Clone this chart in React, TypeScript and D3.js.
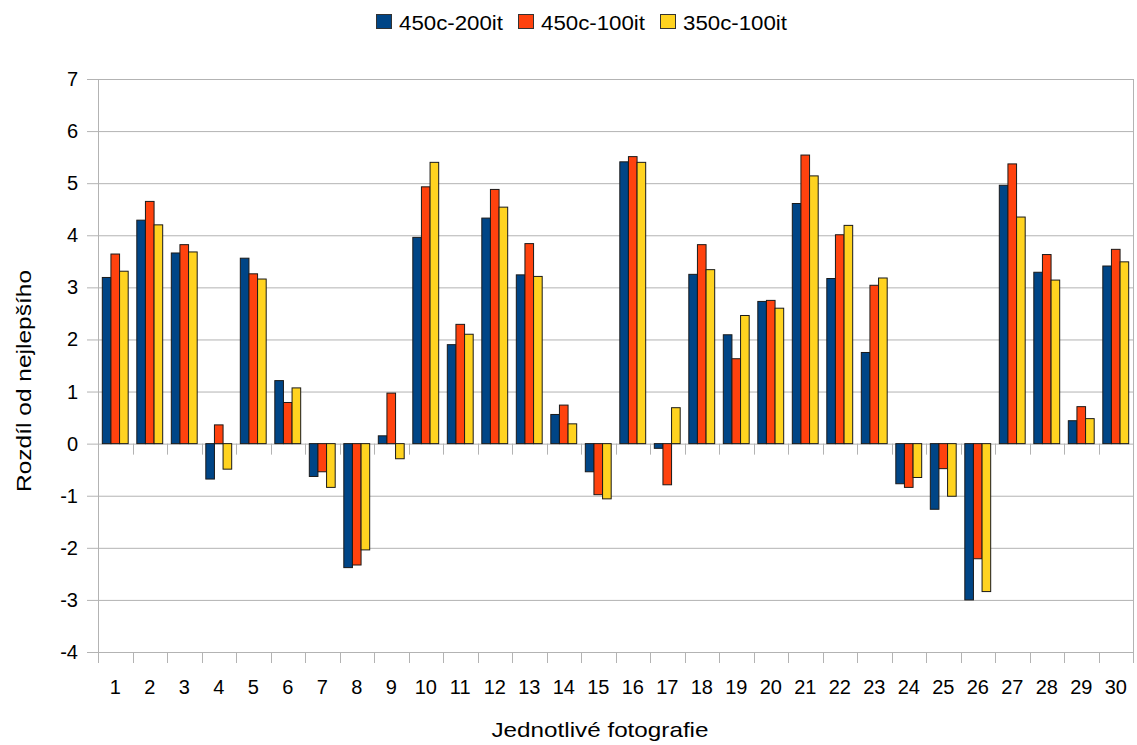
import React, { useEffect, useRef } from 'react';
import * as d3 from 'd3';

const categories = Array.from({ length: 30 }, (_, i) => String(i + 1));
const seriesNames = ['450c-200it', '450c-100it', '350c-100it'];
const seriesColors = ['#004586', '#ff420e', '#ffd320'];

const s450c200 = [3.19, 4.29, 3.66, -0.68, 3.56, 1.21, -0.63, -2.38, 0.15, 3.96,
  1.90, 4.33, 3.24, 0.56, -0.54, 5.41, -0.09, 3.25, 2.09, 2.73,
  4.61, 3.17, 1.75, -0.77, -1.26, -3.0, 4.96, 3.29, 0.44, 3.41];
const s450c100 = [3.64, 4.65, 3.82, 0.36, 3.26, 0.79, -0.54, -2.33, 0.97, 4.93,
  2.29, 4.88, 3.84, 0.74, -0.98, 5.51, -0.79, 3.82, 1.63, 2.75,
  5.54, 4.01, 3.04, -0.84, -0.48, -2.21, 5.37, 3.63, 0.71, 3.73];
const s350c100 = [3.31, 4.20, 3.68, -0.49, 3.16, 1.07, -0.84, -2.04, -0.29, 5.40,
  2.10, 4.54, 3.21, 0.38, -1.06, 5.40, 0.69, 3.34, 2.46, 2.60,
  5.14, 4.19, 3.18, -0.65, -1.01, -2.84, 4.35, 3.14, 0.48, 3.49];
const yTicks = [-4, -3, -2, -1, 0, 1, 2, 3, 4, 5, 6, 7];

const W = 1137;
const H = 745;

export default function App() {
  const svgRef = useRef<SVGSVGElement>(null);

  useEffect(() => {
    if (!svgRef.current) return;
    const svg = d3.select(svgRef.current);
    svg.selectAll('*').remove();

    const left = 98, right = 1133, top = 79, bottom = 652;
    const font = '"Liberation Sans", Arial, sans-serif';
    const grid = '#b3b3b3';

    const x = d3.scaleBand().domain(categories).range([left, right]).paddingInner(0.25).paddingOuter(0.125);
    const band = d3.scaleBand().domain(categories).range([left, right]);
    const xs = d3.scaleBand().domain(seriesNames).range([0, x.bandwidth()]);
    const y = d3.scaleLinear().domain([-4, 7]).range([bottom, top]);

    // horizontal grid
    svg.append('g').selectAll('line').data(yTicks).enter().append('line')
      .attr('x1', left - 11).attr('x2', right)
      .attr('y1', d => y(d) + 0.5).attr('y2', d => y(d) + 0.5)
      .attr('stroke', grid).attr('stroke-width', 1);

    // y axis and right border
    svg.append('line').attr('x1', left + 0.5).attr('x2', left + 0.5)
      .attr('y1', top).attr('y2', bottom).attr('stroke', grid);
    svg.append('line').attr('x1', right + 0.5).attr('x2', right + 0.5)
      .attr('y1', top).attr('y2', bottom).attr('stroke', grid);

    // category ticks at zero line and at bottom
    const bounds = categories.map(c => band(c) as number).concat([right]);
    [y(0), bottom].forEach(yy => {
      svg.append('g').selectAll('line').data(bounds).enter().append('line')
        .attr('x1', d => Math.round(d) + 0.5).attr('x2', d => Math.round(d) + 0.5)
        .attr('y1', yy).attr('y2', yy + 11)
        .attr('stroke', grid);
    });

    // y tick labels
    svg.append('g').selectAll('text').data(yTicks).enter().append('text')
      .attr('x', 78).attr('y', d => y(d) + 7)
      .attr('text-anchor', 'end')
      .attr('font-family', font).attr('font-size', 20)
      .text(d => d);

    // x tick labels
    svg.append('g').selectAll('text').data(categories).enter().append('text')
      .attr('x', d => (band(d) as number) + band.bandwidth() / 2)
      .attr('y', 694)
      .attr('text-anchor', 'middle')
      .attr('font-family', font).attr('font-size', 20)
      .text(d => d);

    // bars
    const series = [s450c200, s450c100, s350c100];
    series.forEach((vals, si) => {
      svg.append('g').selectAll('rect').data(vals).enter().append('rect')
        .attr('x', (_, i) => (x(categories[i]) as number) + (xs(seriesNames[si]) as number))
        .attr('y', d => y(Math.max(0, d)))
        .attr('width', xs.bandwidth())
        .attr('height', d => Math.abs(y(d) - y(0)))
        .attr('fill', seriesColors[si])
        .attr('stroke', '#1a1a1a').attr('stroke-width', 1);
    });

    // axis titles
    svg.append('text')
      .attr('x', 600).attr('y', 737)
      .attr('text-anchor', 'middle')
      .attr('font-family', font).attr('font-size', 21)
      .attr('textLength', 217).attr('lengthAdjust', 'spacingAndGlyphs')
      .text('Jednotlivé fotografie');
    svg.append('text')
      .attr('transform', 'translate(31,381) rotate(-90)')
      .attr('text-anchor', 'middle')
      .attr('font-family', font).attr('font-size', 21)
      .attr('textLength', 222).attr('lengthAdjust', 'spacingAndGlyphs')
      .text('Rozdíl od nejlepšího');

    // legend
    const legendX = [376, 518, 660];
    seriesNames.forEach((name, i) => {
      svg.append('rect')
        .attr('x', legendX[i] + 0.5).attr('y', 14.5).attr('width', 15).attr('height', 14)
        .attr('fill', seriesColors[i]).attr('stroke', '#333');
      svg.append('text')
        .attr('x', legendX[i] + 23).attr('y', 30)
        .attr('font-family', font).attr('font-size', 20)
        .attr('textLength', 104).attr('lengthAdjust', 'spacingAndGlyphs')
        .text(name);
    });
  }, []);

  return (
    <div style={{ position: 'absolute', left: 0, top: 0 }}>
      <svg ref={svgRef} width={W} height={H} style={{ display: 'block', background: '#fff' }} />
    </div>
  );
}
